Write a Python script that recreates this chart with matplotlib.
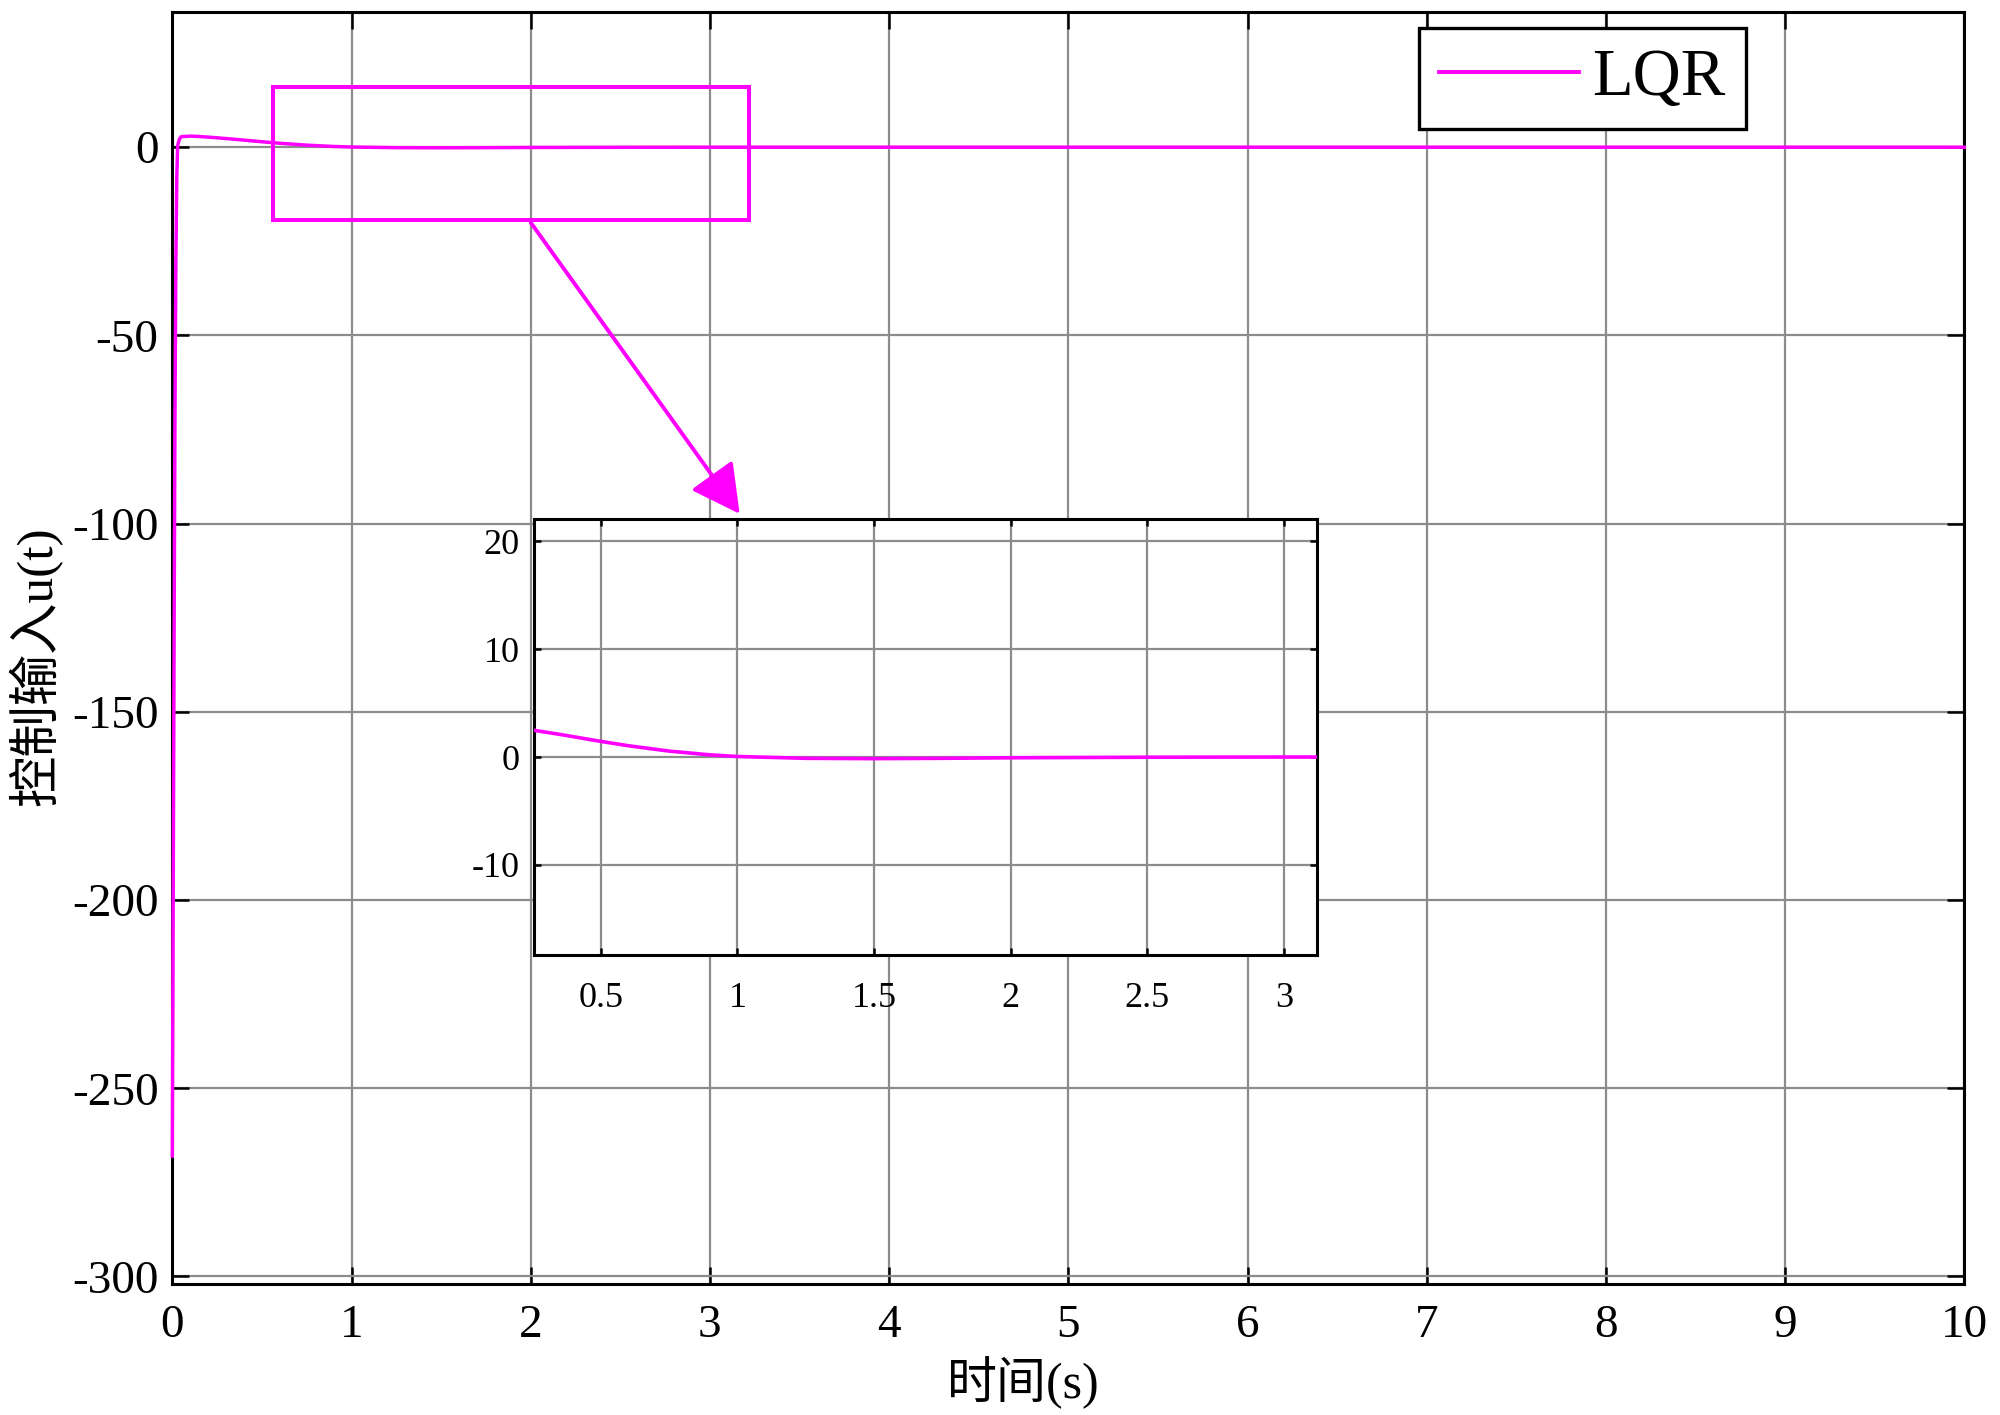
import numpy as np
import matplotlib
matplotlib.use("Agg")
import matplotlib.pyplot as plt
from matplotlib.patches import Rectangle

plt.rcParams['font.family'] = ['Liberation Serif', 'Noto Sans CJK SC', 'DejaVu Sans']
plt.rcParams['axes.unicode_minus'] = False

# LQR control input u(t)
t = [0, 0.005, 0.01, 0.015, 0.02, 0.025, 0.03, 0.04, 0.05, 0.1, 0.15, 0.25, 0.35,
     0.5, 0.6, 0.75, 0.9, 1.0, 1.25, 1.5, 1.75, 2.0, 2.5, 3.0, 4.0, 5.0, 6.0, 7.0, 8.0, 9.0, 10.0]
u = [-268, -200, -130, -70, -30, -8, 0.5, 2.2, 2.8, 2.95, 2.85, 2.5, 2.1,
     1.45, 1.05, 0.55, 0.2, 0.05, -0.12, -0.15, -0.12, -0.07, -0.02, 0, 0, 0, 0, 0, 0, 0, 0]

main_xticks = list(range(0, 11))
main_yticks = [-300, -250, -200, -150, -100, -50, 0]
inset_xticks = [0.5, 1, 1.5, 2, 2.5, 3]
inset_yticks = [-10, 0, 10, 20]

line_color = '#ff00ff'
grid_color = '0.55'

fig = plt.figure(figsize=(10, 7.075), dpi=200)
ax = fig.add_axes([172.3 / 2000, 1 - 1284 / 1415, 1792 / 2000, 1272.3 / 1415])

ax.plot(t, u, color=line_color, lw=1.25, label='LQR', zorder=3, clip_on=False)
ax.set_xlim(0, 10)
ax.set_ylim(-302, 36)
ax.set_xticks(main_xticks)
ax.set_yticks(main_yticks)
ax.grid(True, color=grid_color, lw=0.8)
ax.tick_params(direction='in', length=6, width=0.9, top=True, right=True,
               labelsize=17, color='black')
ax.tick_params(axis='y', pad=5)
ax.tick_params(axis='x', pad=7.5)
for s in ax.spines.values():
    s.set_linewidth(1.1)
    s.set_color('black')

ax.set_xlabel('时间(s)', fontsize=18, ha='center', va='center')
ax.xaxis.set_label_coords(0.475, -0.0774)
ax.set_ylabel('控制输入u(t)', fontsize=18.5, ha='center', va='center', rotation=90)
ax.yaxis.set_label_coords(-0.0766, 0.4857)

leg = ax.legend(loc='upper right', bbox_to_anchor=(0.878, 0.987), borderaxespad=0,
                fontsize=24, fancybox=False, framealpha=1, edgecolor='black',
                handlelength=2.1, handletextpad=0.2, borderpad=0.3)
leg.get_frame().set_linewidth(1.2)
leg.get_lines()[0].set_linewidth(1.4)

# zoom box and arrow
ax.add_patch(Rectangle((0.56, -19.4), 3.22 - 0.56, 16.0 + 19.4, fill=False,
                       edgecolor=line_color, lw=1.45, zorder=4))
ax.annotate('', xy=(3.166, -97.4), xytext=(2.0, -20.0),
            arrowprops=dict(arrowstyle='-|>,head_length=0.75,head_width=0.4',
                            color=line_color, lw=1.4, shrinkA=0, shrinkB=0,
                            mutation_scale=20), zorder=4)

# inset
axin = fig.add_axes([533.6 / 2000, 1 - 955.4 / 1415, (1317.3 - 533.6) / 2000, (955.4 - 519.3) / 1415])
axin.set_facecolor('white')
axin.plot(t, u, color=line_color, lw=1.3, zorder=3)
axin.set_xlim(0.254, 3.123)
axin.set_ylim(-18.4, 22.05)
axin.set_xticks(inset_xticks)
axin.set_xticklabels(['0.5', '1', '1.5', '2', '2.5', '3'])
axin.set_yticks(inset_yticks)
axin.grid(True, color=grid_color, lw=0.8)
axin.tick_params(direction='in', length=2.5, width=0.9, top=True, right=True,
                 labelsize=13)
axin.tick_params(axis='x', pad=9.5)
axin.tick_params(axis='y', pad=5)
for s in axin.spines.values():
    s.set_linewidth(1.1)
    s.set_color('black')

fig.savefig('out.png', dpi=200)
